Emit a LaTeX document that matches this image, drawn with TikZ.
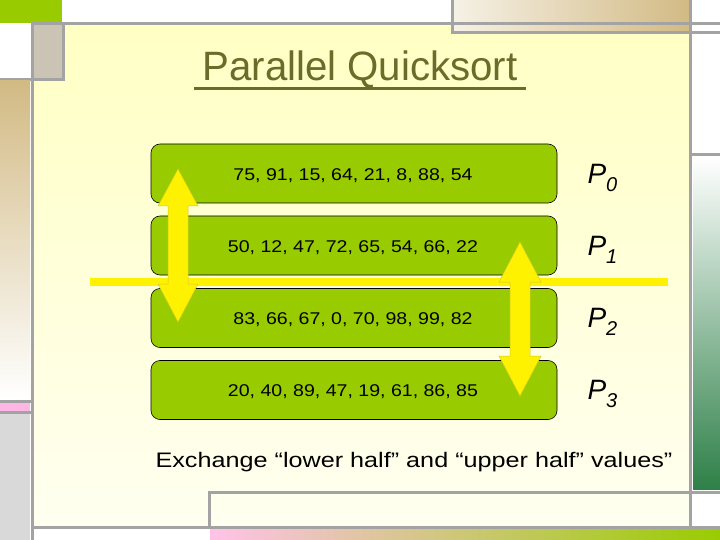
\documentclass[tikz,border=0pt]{standalone}
\usepackage{fontspec}
\setmainfont{Liberation Sans}
\begin{document}
\begin{tikzpicture}[x=1pt,y=-1pt,
  gl/.style={draw=gray!80!black!60,line width=3pt},
  blk/.style={draw=black,line width=0.6pt,fill=boxgreen,rounded corners=9pt},
  num/.style={font=\fontsize{17}{19}\selectfont,text=black,xscale=1.15},
  pl/.style={font=\fontsize{28}{30}\selectfont\itshape,anchor=west},
  arr/.style={fill=yellow,draw=yellow!80!black,line width=0.5pt}]
\definecolor{boxgreen}{HTML}{99CC00}
\definecolor{bgy}{HTML}{FFFFC4}
\definecolor{tan}{HTML}{D2BA84}
\definecolor{olive}{HTML}{6B6B2A}
\definecolor{dgreen}{HTML}{2E8048}
\useasboundingbox (0,0) rectangle (720,540);
\fill[white] (0,0) rectangle (720,540);
% main background
\shade[top color=bgy,bottom color=bgy!25] (32,24) rectangle (690,527);
% top-left decorations
\fill[boxgreen] (0,0) rectangle (62,23);
\fill[gray!50!tan!60] (32,24) rectangle (63,80);
\draw[gl] (32,24) rectangle (63,80);
\draw[gl] (0,80) -- (32,80);
\shade[top color=tan,bottom color=white] (0,81) rectangle (30,400);
\fill[pink!70!magenta!60] (0,403) rectangle (30,411);
\fill[gray!30] (0,413) rectangle (30,540);
\draw[gl] (0,401.5) -- (31,401.5);
\draw[gl] (0,412) -- (31,412);
% top-right box
\shade[left color=white!80!tan,right color=tan] (452,0) rectangle (690,31);
\draw[gl] (452,-2) -- (452,33) -- (720,33);
% frame lines
\draw[gl] (63,24) -- (720,24);
\draw[gl] (32,24) -- (32,540);
\draw[gl] (690,0) -- (690,527);
% right strip
\shade[top color=white,bottom color=dgreen] (693,157) rectangle (720,489);
\draw[gl] (691,155) -- (720,155);
% bottom
\draw[gl] (209,527) -- (209,492) -- (720,492);
\draw[gl] (32,527) -- (720,527);
\shade[left color=pink!70!magenta!50,right color=boxgreen] (210,529.5) rectangle (720,540);
% title
\node[text=olive,font=\fontsize{41}{43}\selectfont,inner sep=0pt,xscale=0.98] (title) at (360,70) {Parallel Quicksort};
\fill[olive] (194,87) rectangle (526,90);
% rows
\node[blk,minimum width=406pt,minimum height=59pt] (r0) at (354,173.5) {};
\node[blk,minimum width=406pt,minimum height=59pt] (r1) at (354,245.5) {};
\node[blk,minimum width=406pt,minimum height=59pt] (r2) at (354,318) {};
\node[blk,minimum width=406pt,minimum height=59pt] (r3) at (354,390) {};
\node[num] (t0) at (353,176) {75, 91, 15, 64, 21, 8, 88, 54};
\node[num] (t1) at (353,248) {50, 12, 47, 72, 65, 54, 66, 22};
\node[num] (t2) at (353,320) {83, 66, 67, 0, 70, 98, 99, 82};
\node[num] (t3) at (353,392) {20, 40, 89, 47, 19, 61, 86, 85};
\node[pl] (p0) at (584,178) {P\raisebox{-8pt}{\fontsize{20}{20}\selectfont 0}};
\node[pl] (p1) at (584,250) {P\raisebox{-8pt}{\fontsize{20}{20}\selectfont 1}};
\node[pl] (p2) at (584,322) {P\raisebox{-8pt}{\fontsize{20}{20}\selectfont 2}};
\node[pl] (p3) at (584,394) {P\raisebox{-8pt}{\fontsize{20}{20}\selectfont 3}};
% divider
\fill[yellow] (90,278) rectangle (668,286);
% arrows
\draw[arr] (178,169) -- (198,206) -- (188,206) -- (188,284) -- (198,284) -- (178,322) -- (158,284) -- (168,284) -- (168,206) -- (158,206) -- cycle;
\draw[arr] (520,242) -- (541,282) -- (530,282) -- (530,356) -- (541,356) -- (520,396) -- (499,356) -- (510,356) -- (510,282) -- (499,282) -- cycle;
\node[font=\fontsize{21}{23}\selectfont,xscale=1.2] (note) at (414,462) {Exchange “lower half” and “upper half” values”};
\end{tikzpicture}
\end{document}
